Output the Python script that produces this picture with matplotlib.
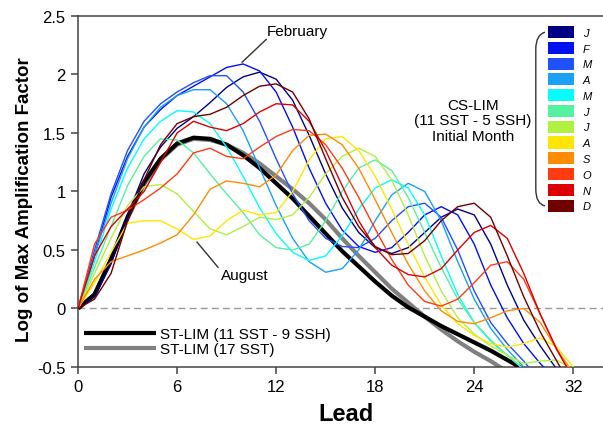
import numpy as np
import matplotlib
matplotlib.use("Agg")
import matplotlib.pyplot as plt
from matplotlib.patches import Patch, PathPatch
from matplotlib.path import Path

plt.rcParams['font.family'] = ['Liberation Sans', 'DejaVu Sans']

nan = np.nan
lead = np.arange(0, 31)

# CS-LIM, one curve per initial month
months = ['J', 'F', 'M', 'A', 'M', 'J', 'J', 'A', 'S', 'O', 'N', 'D']
colors = ['#000085', '#0010f0', '#2050ff', '#1aa0f5', '#00ffff', '#55f0a0',
          '#b0f040', '#ffe600', '#ff8c00', '#ff3c10', '#dd0000', '#700000']

cs_jan = [0, 0.1, 0.38, 0.8, 1.15, 1.38, 1.54, 1.64, 1.76, 1.89, 1.98, 2.02, 1.96, 1.78, 1.48, 1.15,
          0.86, 0.65, 0.52, 0.47, 0.52, 0.65, 0.78, 0.85, 0.8, 0.55, 0.2, -0.1, -0.32, -0.52, nan]
cs_feb = [0, 0.45, 0.95, 1.3, 1.55, 1.7, 1.82, 1.9, 1.98, 2.06, 2.09, 2.03, 1.85, 1.55, 1.2, 0.9,
          0.67, 0.53, 0.48, 0.52, 0.65, 0.8, 0.87, 0.8, 0.55, 0.2, -0.08, -0.3, -0.47, -0.62, nan]
cs_mar = [0, 0.5, 0.98, 1.35, 1.6, 1.75, 1.85, 1.93, 1.99, 1.99, 1.85, 1.6, 1.28, 0.98, 0.75, 0.6,
          0.53, 0.52, 0.6, 0.75, 0.87, 0.9, 0.78, 0.5, 0.15, -0.12, -0.3, -0.45, -0.62, nan, nan]
cs_apr = [0, 0.45, 0.9, 1.28, 1.55, 1.72, 1.82, 1.87, 1.87, 1.75, 1.52, 1.2, 0.88, 0.6, 0.4, 0.31,
          0.34, 0.5, 0.75, 0.97, 1.07, 1.0, 0.75, 0.4, 0.08, -0.17, -0.35, -0.5, -0.65, nan, nan]
cs_may = [0, 0.4, 0.85, 1.2, 1.45, 1.6, 1.69, 1.68, 1.58, 1.38, 1.13, 0.86, 0.64, 0.48, 0.41, 0.45,
          0.62, 0.85, 1.03, 1.1, 1.03, 0.8, 0.45, 0.12, -0.12, -0.28, -0.4, -0.52, nan, nan, nan]
cs_jun = [0, 0.35, 0.7, 1.05, 1.3, 1.45, 1.44, 1.33, 1.15, 0.98, 0.82, 0.63, 0.52, 0.5, 0.55, 0.75,
          1.0, 1.2, 1.27, 1.18, 0.95, 0.65, 0.35, 0.08, -0.12, -0.27, -0.4, -0.52, nan, nan, nan]
cs_jul = [0, 0.3, 0.6, 0.88, 1.04, 1.06, 0.98, 0.83, 0.68, 0.63, 0.7, 0.78, 0.76, 0.8, 0.95, 1.15,
          1.3, 1.37, 1.3, 1.1, 0.8, 0.45, 0.15, -0.08, -0.22, -0.32, -0.4, -0.47, -0.45, -0.44, -0.52]
cs_aug = [0, 0.22, 0.48, 0.73, 0.75, 0.75, 0.68, 0.59, 0.62, 0.75, 0.84, 0.8, 0.82, 1.0, 1.27, 1.45,
          1.47, 1.35, 1.13, 0.85, 0.55, 0.27, 0.03, -0.13, -0.23, -0.3, -0.33, -0.3, -0.25, -0.33, -0.5]
cs_sep = [0, 0.25, 0.4, 0.45, 0.5, 0.56, 0.63, 0.8, 1.02, 1.09, 1.07, 1.04, 1.14, 1.35, 1.48, 1.49,
          1.4, 1.2, 0.93, 0.65, 0.38, 0.15, -0.02, -0.11, -0.13, -0.08, -0.02, 0.0, -0.12, -0.35, -0.55]
cs_oct = [0, 0.55, 0.78, 0.84, 0.93, 1.03, 1.15, 1.33, 1.37, 1.3, 1.28, 1.38, 1.47, 1.53, 1.52, 1.4,
          1.2, 0.95, 0.68, 0.42, 0.2, 0.06, 0.02, 0.08, 0.22, 0.37, 0.4, 0.25, -0.05, -0.35, -0.6]
cs_nov = [0, 0.45, 0.7, 0.85, 1.0, 1.25, 1.5, 1.6, 1.55, 1.52, 1.58, 1.68, 1.75, 1.74, 1.6, 1.35,
          1.05, 0.75, 0.52, 0.37, 0.29, 0.27, 0.34, 0.5, 0.65, 0.71, 0.6, 0.3, -0.05, -0.35, -0.6]
cs_dec = [0, 0.08, 0.3, 0.75, 1.1, 1.4, 1.58, 1.64, 1.66, 1.72, 1.82, 1.9, 1.92, 1.85, 1.62, 1.28,
          0.95, 0.7, 0.53, 0.46, 0.47, 0.58, 0.75, 0.87, 0.9, 0.78, 0.45, 0.1, -0.2, -0.45, -0.7]
cs_lim = [cs_jan, cs_feb, cs_mar, cs_apr, cs_may, cs_jun,
          cs_jul, cs_aug, cs_sep, cs_oct, cs_nov, cs_dec]

# ST-LIM
st_sst_ssh = [0, 0.12, 0.42, 0.78, 1.08, 1.28, 1.41, 1.46, 1.45, 1.4, 1.31, 1.2, 1.07, 0.94, 0.79, 0.64,
              0.49, 0.36, 0.23, 0.11, 0.01, -0.07, -0.15, -0.22, -0.29, -0.36, -0.44, -0.52, nan, nan, nan]
st_sst = [0, 0.12, 0.42, 0.77, 1.06, 1.27, 1.4, 1.45, 1.44, 1.4, 1.33, 1.24, 1.13, 1.02, 0.9, 0.76,
          0.6, 0.45, 0.31, 0.17, 0.05, -0.07, -0.18, -0.28, -0.37, -0.45, -0.54, nan, nan, nan, nan]

xticks = [0, 6, 12, 18, 24, 30]
xticklabels = ['0', '6', '12', '18', '24', '32']

fig = plt.figure(figsize=(6.03, 4.27), dpi=100)
ax = fig.add_axes([0.1294, 0.1382, 0.8706, 0.822])

ax.axhline(0, color='#999999', lw=1.0, dashes=(5, 3), zorder=1)

l_gray, = ax.plot(lead, st_sst, color='#808080', lw=3.0, zorder=2, solid_capstyle='butt')
l_black, = ax.plot(lead, st_sst_ssh, color='black', lw=3.0, zorder=3, solid_capstyle='butt')
for vals, c in zip(cs_lim, colors):
    ax.plot(lead, vals, color=c, lw=1.0, zorder=4)

ax.set_xlim(0, 31.8)
ax.set_ylim(-0.5, 2.5)
ax.set_xticks(xticks)
ax.set_xticklabels(xticklabels)
ax.set_yticks([-0.5, 0, 0.5, 1, 1.5, 2, 2.5])
ax.set_yticklabels(['-0.5', '0', '0.5', '1', '1.5', '2', '2.5'])
ax.tick_params(direction='out', length=5, width=1.1, color='#444444', labelsize=12, pad=4)
ax.spines['right'].set_visible(False)
for s in ['left', 'bottom', 'top']:
    ax.spines[s].set_color('#444444')
    ax.spines[s].set_linewidth(1.1)

ax.set_xlabel('Lead', fontsize=17, fontweight='bold')
ax.xaxis.set_label_coords(0.51, -0.1)
ax.set_ylabel('Log of Max Amplification Factor', fontsize=13.5, fontweight='bold')
ax.yaxis.set_label_coords(-0.085, 0.48)

# annotations
ax.plot([9.94, 11.4], [2.105, 2.30], color='#333333', lw=1)
ax.text(13.3, 2.37, 'February', fontsize=11, ha='center', va='center')
ax.plot([7.21, 8.48], [0.567, 0.352], color='#333333', lw=1)
ax.text(10.12, 0.283, 'August', fontsize=11, ha='center', va='center')

ax.text(0.752, 0.703, 'CS-LIM\n(11 SST - 5 SSH)\nInitial Month', transform=ax.transAxes,
        fontsize=11, ha='center', va='center', linespacing=1.15)

# ST-LIM legend
leg1 = ax.legend([l_black, l_gray], ['ST-LIM (11 SST - 9 SSH)', 'ST-LIM (17 SST)'],
                 loc='lower left', bbox_to_anchor=(0.012, 0.03), frameon=False, fontsize=11,
                 handlelength=4.7, handletextpad=0.25, labelspacing=0.1, borderpad=0,
                 borderaxespad=0)
ax.add_artist(leg1)

# month legend
handles = [Patch(facecolor=c, edgecolor='none') for c in colors]
ax.legend(handles, months, loc='upper left', bbox_to_anchor=(0.895, 0.9715), frameon=False,
          prop={'size': 8, 'style': 'italic'}, handlelength=2.35, handleheight=1.3,
          handletextpad=0.8, labelspacing=0.33, borderpad=0, borderaxespad=0)

# bracket
verts = [(0.8895, 0.954), (0.872, 0.946), (0.872, 0.906), (0.872, 0.507),
         (0.872, 0.464), (0.8895, 0.459)]
codes = [Path.MOVETO, Path.CURVE3, Path.CURVE3, Path.LINETO, Path.CURVE3, Path.CURVE3]
ax.add_patch(PathPatch(Path(verts, codes), transform=ax.transAxes, fill=False,
                       edgecolor='#333333', lw=1, clip_on=False))

fig.savefig('out.png', dpi=100)
